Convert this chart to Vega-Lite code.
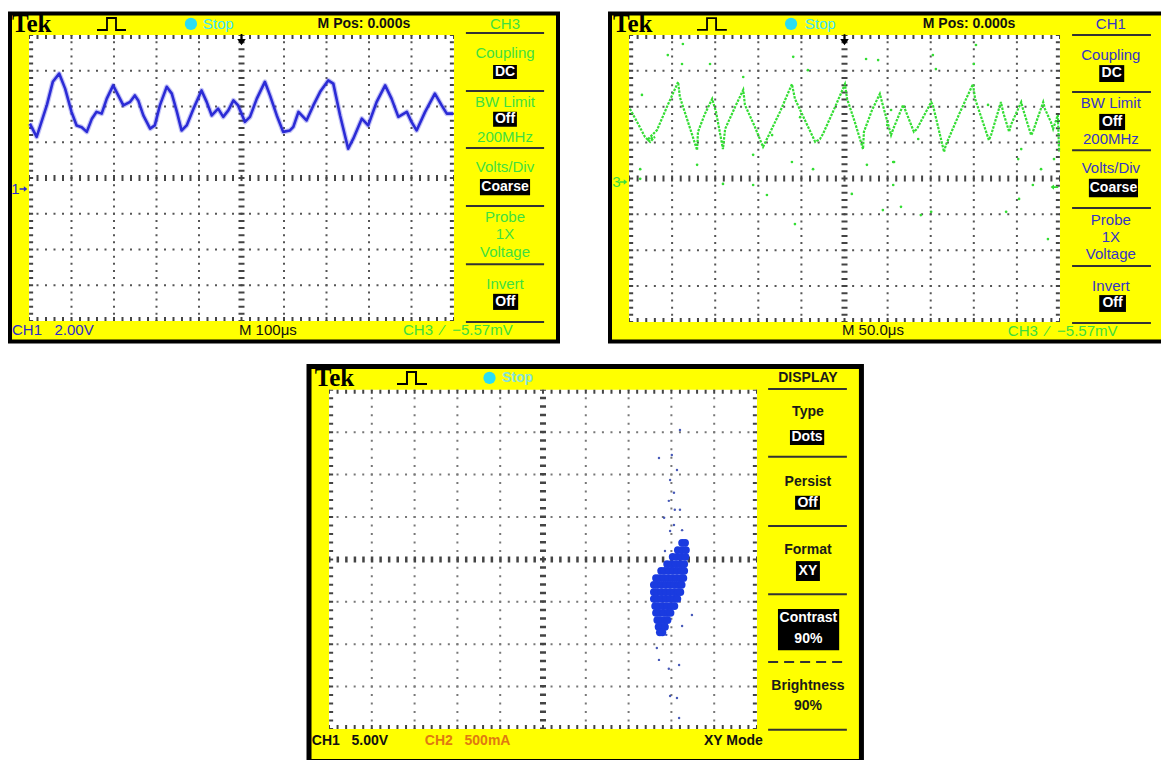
{
  "$schema": "https://vega.github.io/schema/vega-lite/v6.json",
  "background": "#ffffff",
  "padding": {"left": 8, "top": 9.5, "right": 0, "bottom": 0},
  "spacing": 19.5,
  "config": {
    "view": {"stroke": null},
    "axis": {"disable": true},
    "legend": {"disable": true},
    "text": {"font": "Liberation Sans", "fontSize": 15, "baseline": "middle"}
  },
  "vconcat": [
    {
      "spacing": 48,
      "hconcat": [
        {
          "width": 548,
          "height": 328,
          "view": {"fill": "#ffff00", "stroke": "#000000", "strokeWidth": 4},
          "encoding": {
            "x": {"field": "x", "type": "quantitative", "scale": {"domain": [-0.447, 12.447], "nice": false, "zero": false}, "axis": null},
            "y": {"field": "y", "type": "quantitative", "scale": {"domain": [-0.573, 8.601], "nice": false, "zero": false}, "axis": null}
          },
          "layer": [
            {"data": {"values": [{"x": 0, "x2": 10, "y": 0, "y2": 8}]}, "mark": {"type": "rect", "fill": "#ffffff"}, "encoding": {"x2": {"field": "x2"}, "y2": {"field": "y2"}}},
            {"data": {"values": [{"x": 1, "y": 0, "y2": 8}, {"x": 2, "y": 0, "y2": 8}, {"x": 3, "y": 0, "y2": 8}, {"x": 4, "y": 0, "y2": 8}, {"x": 6, "y": 0, "y2": 8}, {"x": 7, "y": 0, "y2": 8}, {"x": 8, "y": 0, "y2": 8}, {"x": 9, "y": 0, "y2": 8}]}, "mark": {"type": "rule", "color": "#555555", "strokeWidth": 2, "strokeDash": [2, 5.15], "strokeDashOffset": 1}, "encoding": {"y2": {"field": "y2"}}},
            {"data": {"values": [{"y": 1, "x": 0, "x2": 10}, {"y": 2, "x": 0, "x2": 10}, {"y": 3, "x": 0, "x2": 10}, {"y": 5, "x": 0, "x2": 10}, {"y": 6, "x": 0, "x2": 10}, {"y": 7, "x": 0, "x2": 10}]}, "mark": {"type": "rule", "color": "#555555", "strokeWidth": 2, "strokeDash": [2, 6.5], "strokeDashOffset": 1}, "encoding": {"x2": {"field": "x2"}}},
            {"data": {"values": [{"x": 5, "y": 0, "y2": 8}]}, "mark": {"type": "rule", "color": "#444444", "strokeWidth": 6, "strokeDash": [2, 5.15], "strokeDashOffset": 1}, "encoding": {"y2": {"field": "y2"}}},
            {"data": {"values": [{"y": 4, "x": 0, "x2": 10}]}, "mark": {"type": "rule", "color": "#444444", "strokeWidth": 6, "strokeDash": [2, 6.5], "strokeDashOffset": 1}, "encoding": {"x2": {"field": "x2"}}},
            {"data": {"values": [{"x": 0.05, "y": 0, "y2": 8}, {"x": 9.95, "y": 0, "y2": 8}]}, "mark": {"type": "rule", "color": "#444444", "strokeWidth": 4, "strokeDash": [2, 5.15], "strokeDashOffset": 1}, "encoding": {"y2": {"field": "y2"}}},
            {"data": {"values": [{"y": 0.056, "x": 0, "x2": 10}, {"y": 7.944, "x": 0, "x2": 10}]}, "mark": {"type": "rule", "color": "#444444", "strokeWidth": 4, "strokeDash": [2, 6.5], "strokeDashOffset": 1}, "encoding": {"x2": {"field": "x2"}}},
            {"data": {"name": "traceA"}, "mark": {"type": "line", "color": "#3b3be0", "strokeWidth": 5, "opacity": 0.3, "strokeJoin": "round"}},
            {"data": {"name": "traceA"}, "mark": {"type": "line", "color": "#2b2bd6", "strokeWidth": 2.6, "strokeJoin": "round"}},
            {"data": {"values": [{"x": 1.60, "y": 8.14}, {"x": 1.835, "y": 8.14}, {"x": 1.835, "y": 8.475}, {"x": 2.047, "y": 8.475}, {"x": 2.047, "y": 8.14}, {"x": 2.282, "y": 8.14}]}, "mark": {"type": "line", "color": "#000000", "strokeWidth": 1.8}, "encoding": {"order": {"value": null}}},
            {"data": {"values": [{"x": 3.81, "y": 8.31}]}, "mark": {"type": "point", "filled": true, "color": "#29def5", "opacity": 1, "size": 150}},
            {"data": {"values": [{"x": 5, "y": 7.87}]}, "mark": {"type": "point", "filled": true, "color": "#000000", "opacity": 1, "size": 150, "shape": "M-0.7,-0.1L0.7,-0.1L0,0.9Z M-0.15,-0.9L0.15,-0.9L0.15,-0.1L-0.15,-0.1Z"}},
            {"data": {"values": [{"x": -0.13, "y": 3.69}]}, "mark": {"type": "point", "filled": true, "color": "#2a2acc", "opacity": 1, "size": 60, "shape": "M-1,-0.2L0.1,-0.2L0.1,-0.7L1,0L0.1,0.7L0.1,0.2L-1,0.2Z"}},
            {"data": {"values": [{"x": 10.28, "x2": 12.12, "y": 8.056}, {"x": 10.28, "x2": 12.12, "y": 6.43}, {"x": 10.28, "x2": 12.12, "y": 4.84}, {"x": 10.28, "x2": 12.12, "y": 3.22}, {"x": 10.28, "x2": 12.12, "y": 1.59}, {"x": 10.28, "x2": 12.12, "y": -0.028}]}, "mark": {"type": "rule", "color": "#333333", "strokeWidth": 2}, "encoding": {"x2": {"field": "x2"}}},
            {"data": {"values": [{"x": 10.92, "x2": 11.48, "y": 6.77, "y2": 7.16}, {"x": 10.92, "x2": 11.48, "y": 5.43, "y2": 5.85}, {"x": 10.61, "x2": 11.79, "y": 3.52, "y2": 3.97}, {"x": 10.92, "x2": 11.51, "y": 0.31, "y2": 0.76}]}, "mark": {"type": "rect", "fill": "#000000"}, "encoding": {"x2": {"field": "x2"}, "y2": {"field": "y2"}}},
            {"data": {"name": "tA"}, "transform": [{"filter": "datum.g == 'tek'"}], "mark": {"type": "text", "align": "left", "font": "Liberation Serif", "fontWeight": "bold", "fontSize": 25, "color": "#000000"}, "encoding": {"text": {"field": "t"}}},
            {"data": {"name": "tA"}, "transform": [{"filter": "indexof(['stop','stopc','ch','blk','trg','orng'], datum.g) >= 0"}], "mark": {"type": "text", "align": "left"}, "encoding": {"text": {"field": "t"}, "color": {"field": "g", "type": "nominal", "scale": {"domain": ["stop", "stopc", "ch", "blk", "trg", "orng"], "range": ["#3de6ff", "#86e3d8", "#2a2acc", "#111111", "#3ddc3d", "#e07a10"]}, "legend": null}}},
            {"data": {"name": "tA"}, "transform": [{"filter": "datum.g == 'mpos'"}], "mark": {"type": "text", "align": "center", "fontWeight": "bold", "fontSize": 14, "color": "#111111"}, "encoding": {"text": {"field": "t"}}},
            {"data": {"name": "tA"}, "transform": [{"filter": "datum.g == 'menu'"}], "mark": {"type": "text", "align": "center", "color": "#3fdf3f"}, "encoding": {"text": {"field": "t"}}},
            {"data": {"name": "tA"}, "transform": [{"filter": "datum.g == 'box'"}], "mark": {"type": "text", "align": "center", "fontWeight": "bold", "fontSize": 14, "color": "#ffffff"}, "encoding": {"text": {"field": "t"}}}
          ]
        },
        {
          "width": 560,
          "height": 328,
          "view": {"fill": "#ffff00", "stroke": "#000000", "strokeWidth": 4},
          "encoding": {
            "x": {"field": "x", "type": "quantitative", "scale": {"domain": [-0.441, 12.552], "nice": false, "zero": false}, "axis": null},
            "y": {"field": "y", "type": "quantitative", "scale": {"domain": [-0.5436, 8.599], "nice": false, "zero": false}, "axis": null}
          },
          "layer": [
            {"data": {"values": [{"x": 0, "x2": 10, "y": 0, "y2": 8}]}, "mark": {"type": "rect", "fill": "#ffffff"}, "encoding": {"x2": {"field": "x2"}, "y2": {"field": "y2"}}},
            {"data": {"values": [{"x": 1, "y": 0, "y2": 8}, {"x": 2, "y": 0, "y2": 8}, {"x": 3, "y": 0, "y2": 8}, {"x": 4, "y": 0, "y2": 8}, {"x": 6, "y": 0, "y2": 8}, {"x": 7, "y": 0, "y2": 8}, {"x": 8, "y": 0, "y2": 8}, {"x": 9, "y": 0, "y2": 8}]}, "mark": {"type": "rule", "color": "#555555", "strokeWidth": 2, "strokeDash": [2, 5.175], "strokeDashOffset": 1}, "encoding": {"y2": {"field": "y2"}}},
            {"data": {"values": [{"y": 1, "x": 0, "x2": 10}, {"y": 2, "x": 0, "x2": 10}, {"y": 3, "x": 0, "x2": 10}, {"y": 5, "x": 0, "x2": 10}, {"y": 6, "x": 0, "x2": 10}, {"y": 7, "x": 0, "x2": 10}]}, "mark": {"type": "rule", "color": "#555555", "strokeWidth": 2, "strokeDash": [2, 6.62], "strokeDashOffset": 1}, "encoding": {"x2": {"field": "x2"}}},
            {"data": {"values": [{"x": 5, "y": 0, "y2": 8}]}, "mark": {"type": "rule", "color": "#444444", "strokeWidth": 6, "strokeDash": [2, 5.175], "strokeDashOffset": 1}, "encoding": {"y2": {"field": "y2"}}},
            {"data": {"values": [{"y": 4, "x": 0, "x2": 10}]}, "mark": {"type": "rule", "color": "#444444", "strokeWidth": 6, "strokeDash": [2, 6.62], "strokeDashOffset": 1}, "encoding": {"x2": {"field": "x2"}}},
            {"data": {"values": [{"x": 0.05, "y": 0, "y2": 8}, {"x": 9.95, "y": 0, "y2": 8}]}, "mark": {"type": "rule", "color": "#444444", "strokeWidth": 4, "strokeDash": [2, 5.175], "strokeDashOffset": 1}, "encoding": {"y2": {"field": "y2"}}},
            {"data": {"values": [{"y": 0.056, "x": 0, "x2": 10}, {"y": 7.944, "x": 0, "x2": 10}]}, "mark": {"type": "rule", "color": "#444444", "strokeWidth": 4, "strokeDash": [2, 6.62], "strokeDashOffset": 1}, "encoding": {"x2": {"field": "x2"}}},
            {"data": {"values": [
              {"x": 0.02, "y": 5.94}, {"x": 0.19, "y": 5.57}, {"x": 0.37, "y": 5.16}, {"x": 0.49, "y": 5.02}, {"x": 0.60, "y": 5.16}, {"x": 0.42, "y": 5.07}, {"x": 0.65, "y": 5.35}, {"x": 0.90, "y": 6.05}, {"x": 1.14, "y": 6.69}, {"x": 1.18, "y": 6.27},
              {"x": 1.37, "y": 5.57}, {"x": 1.58, "y": 4.79}, {"x": 1.60, "y": 5.30}, {"x": 1.76, "y": 5.80}, {"x": 1.93, "y": 6.22}, {"x": 2.02, "y": 5.85}, {"x": 2.18, "y": 4.82}, {"x": 2.23, "y": 5.38}, {"x": 2.46, "y": 5.99}, {"x": 2.65, "y": 6.47},
              {"x": 2.69, "y": 6.05}, {"x": 2.92, "y": 5.44}, {"x": 3.11, "y": 4.88}, {"x": 3.20, "y": 5.10}, {"x": 3.50, "y": 5.85}, {"x": 3.78, "y": 6.63}, {"x": 3.85, "y": 6.22}, {"x": 4.08, "y": 5.63}, {"x": 4.32, "y": 5.02}, {"x": 4.43, "y": 5.10},
              {"x": 4.50, "y": 5.24}, {"x": 4.78, "y": 5.99}, {"x": 5.01, "y": 6.63}, {"x": 5.06, "y": 6.22}, {"x": 5.24, "y": 5.57}, {"x": 5.43, "y": 4.82}, {"x": 5.45, "y": 5.30}, {"x": 5.64, "y": 5.91}, {"x": 5.82, "y": 6.36}, {"x": 5.87, "y": 6.13},
              {"x": 6.08, "y": 5.21}, {"x": 6.13, "y": 5.38}, {"x": 6.36, "y": 6.05}, {"x": 6.40, "y": 5.94}, {"x": 6.61, "y": 5.30}, {"x": 6.68, "y": 5.38}, {"x": 7.01, "y": 6.13}, {"x": 7.05, "y": 6.05}, {"x": 7.31, "y": 4.74}, {"x": 7.35, "y": 4.93},
              {"x": 7.68, "y": 5.85}, {"x": 7.98, "y": 6.63}, {"x": 8.03, "y": 6.22}, {"x": 8.35, "y": 5.07}, {"x": 8.40, "y": 5.21}, {"x": 8.63, "y": 6.13}, {"x": 8.68, "y": 5.85}, {"x": 8.82, "y": 5.30}, {"x": 8.86, "y": 5.49}, {"x": 9.10, "y": 6.13},
              {"x": 9.14, "y": 5.94}, {"x": 9.33, "y": 5.21}, {"x": 9.37, "y": 5.30}, {"x": 9.61, "y": 6.13}, {"x": 9.65, "y": 5.94}, {"x": 9.79, "y": 5.57}, {"x": 9.84, "y": 5.38}, {"x": 9.95, "y": 5.77}, {"x": 9.98, "y": 4.74}
            ]}, "mark": {"type": "line", "color": "#33dd33", "strokeWidth": 2.2, "strokeDash": [2.5, 1.2]}, "encoding": {"order": {"value": null}}},
            {"data": {"values": [
              {"x": 1.25, "y": 7.75}, {"x": 0.90, "y": 7.44}, {"x": 1.23, "y": 7.19}, {"x": 1.88, "y": 7.19}, {"x": 3.81, "y": 7.39}, {"x": 4.15, "y": 7.02}, {"x": 2.65, "y": 6.83}, {"x": 0.30, "y": 6.33}, {"x": 0.26, "y": 4.26}, {"x": 1.58, "y": 4.38},
              {"x": 2.88, "y": 4.66}, {"x": 3.97, "y": 5.71}, {"x": 3.78, "y": 4.46}, {"x": 5.52, "y": 4.38}, {"x": 5.78, "y": 7.30}, {"x": 6.13, "y": 4.46}, {"x": 3.32, "y": 5.21}, {"x": 4.27, "y": 4.26}, {"x": 5.99, "y": 5.49}, {"x": 8.05, "y": 7.72},
              {"x": 7.05, "y": 7.44}, {"x": 7.12, "y": 7.05}, {"x": 8.00, "y": 7.19}, {"x": 5.50, "y": 7.33}, {"x": 6.08, "y": 5.91}, {"x": 8.33, "y": 6.05}, {"x": 6.15, "y": 4.46}, {"x": 9.03, "y": 4.54}, {"x": 9.56, "y": 4.26}, {"x": 9.86, "y": 4.54},
              {"x": 6.71, "y": 5.10}, {"x": 9.10, "y": 4.82}, {"x": 6.13, "y": 3.82}, {"x": 6.31, "y": 3.21}, {"x": 5.89, "y": 3.12}, {"x": 6.77, "y": 2.98}, {"x": 7.01, "y": 3.07}, {"x": 8.75, "y": 3.07}, {"x": 9.05, "y": 3.43}, {"x": 9.37, "y": 3.82},
              {"x": 9.72, "y": 2.31}, {"x": 0.26, "y": 3.99}, {"x": 2.18, "y": 3.85}, {"x": 2.88, "y": 3.82}, {"x": 3.20, "y": 3.54}, {"x": 3.85, "y": 2.73}, {"x": 5.17, "y": 3.57}
            ]}, "mark": {"type": "point", "filled": true, "color": "#33dd33", "opacity": 1, "size": 7}},
            {"data": {"values": [{"x": 1.578, "y": 8.14}, {"x": 1.81, "y": 8.14}, {"x": 1.81, "y": 8.47}, {"x": 2.02, "y": 8.47}, {"x": 2.02, "y": 8.14}, {"x": 2.27, "y": 8.14}]}, "mark": {"type": "line", "color": "#000000", "strokeWidth": 1.8}, "encoding": {"order": {"value": null}}},
            {"data": {"values": [{"x": 3.76, "y": 8.31}]}, "mark": {"type": "point", "filled": true, "color": "#29def5", "opacity": 1, "size": 150}},
            {"data": {"values": [{"x": 5, "y": 7.87}]}, "mark": {"type": "point", "filled": true, "color": "#000000", "opacity": 1, "size": 150, "shape": "M-0.7,-0.1L0.7,-0.1L0,0.9Z M-0.15,-0.9L0.15,-0.9L0.15,-0.1L-0.15,-0.1Z"}},
            {"data": {"values": [{"x": 9.87, "y": 3.76}]}, "mark": {"type": "point", "filled": true, "color": "#33dd33", "opacity": 1, "size": 60, "shape": "M1,-0.2L-0.1,-0.2L-0.1,-0.7L-1,0L-0.1,0.7L-0.1,0.2L1,0.2Z"}},
            {"data": {"values": [{"x": -0.13, "y": 3.90}]}, "mark": {"type": "point", "filled": true, "color": "#3ddc3d", "opacity": 1, "size": 60, "shape": "M-1,-0.2L0.1,-0.2L0.1,-0.7L1,0L0.1,0.7L0.1,0.2L-1,0.2Z"}},
            {"data": {"values": [{"x": 10.28, "x2": 12.11, "y": 8.0}, {"x": 10.28, "x2": 12.11, "y": 6.41}, {"x": 10.28, "x2": 12.11, "y": 4.79}, {"x": 10.28, "x2": 12.11, "y": 3.18}, {"x": 10.28, "x2": 12.11, "y": 1.56}, {"x": 10.28, "x2": 12.11, "y": -0.03}]}, "mark": {"type": "rule", "color": "#333333", "strokeWidth": 2}, "encoding": {"x2": {"field": "x2"}}},
            {"data": {"values": [{"x": 10.91, "x2": 11.49, "y": 6.69, "y2": 7.16}, {"x": 10.91, "x2": 11.51, "y": 5.35, "y2": 5.80}, {"x": 10.67, "x2": 11.81, "y": 3.48, "y2": 3.99}, {"x": 10.91, "x2": 11.53, "y": 0.28, "y2": 0.75}]}, "mark": {"type": "rect", "fill": "#000000"}, "encoding": {"x2": {"field": "x2"}, "y2": {"field": "y2"}}},
            {"data": {"name": "tB"}, "transform": [{"filter": "datum.g == 'tek'"}], "mark": {"type": "text", "align": "left", "font": "Liberation Serif", "fontWeight": "bold", "fontSize": 25, "color": "#000000"}, "encoding": {"text": {"field": "t"}}},
            {"data": {"name": "tB"}, "transform": [{"filter": "indexof(['stop','stopc','ch','blk','trg','orng'], datum.g) >= 0"}], "mark": {"type": "text", "align": "left"}, "encoding": {"text": {"field": "t"}, "color": {"field": "g", "type": "nominal", "scale": {"domain": ["stop", "stopc", "ch", "blk", "trg", "orng"], "range": ["#3de6ff", "#86e3d8", "#2a2acc", "#111111", "#3ddc3d", "#e07a10"]}, "legend": null}}},
            {"data": {"name": "tB"}, "transform": [{"filter": "datum.g == 'mpos'"}], "mark": {"type": "text", "align": "center", "fontWeight": "bold", "fontSize": 14, "color": "#111111"}, "encoding": {"text": {"field": "t"}}},
            {"data": {"name": "tB"}, "transform": [{"filter": "datum.g == 'menu'"}], "mark": {"type": "text", "align": "center", "color": "#3535c5"}, "encoding": {"text": {"field": "t"}}},
            {"data": {"name": "tB"}, "transform": [{"filter": "datum.g == 'box'"}], "mark": {"type": "text", "align": "center", "fontWeight": "bold", "fontSize": 14, "color": "#ffffff"}, "encoding": {"text": {"field": "t"}}}
          ]
        }
      ]
    },
    {
      "width": 854,
      "height": 399,
      "encoding": {
        "x": {"field": "x", "type": "quantitative", "scale": {"domain": [-7.453, 12.5], "nice": false, "zero": false}, "axis": null},
        "y": {"field": "y", "type": "quantitative", "scale": {"domain": [-0.802, 8.608], "nice": false, "zero": false}, "axis": null}
      },
      "layer": [
        {"data": {"values": [{"x": -0.467, "x2": 12.44, "y": 8.55, "y2": -0.767}]}, "mark": {"type": "rect", "fill": "#ffff00", "stroke": "#000000", "strokeWidth": 5}, "encoding": {"x2": {"field": "x2"}, "y2": {"field": "y2"}}},
        {"data": {"values": [{"x": 0, "x2": 10, "y": 0, "y2": 8}]}, "mark": {"type": "rect", "fill": "#ffffff"}, "encoding": {"x2": {"field": "x2"}, "y2": {"field": "y2"}}},
        {"data": {"values": [{"x": 1, "y": 0, "y2": 8}, {"x": 2, "y": 0, "y2": 8}, {"x": 3, "y": 0, "y2": 8}, {"x": 4, "y": 0, "y2": 8}, {"x": 6, "y": 0, "y2": 8}, {"x": 7, "y": 0, "y2": 8}, {"x": 8, "y": 0, "y2": 8}, {"x": 9, "y": 0, "y2": 8}]}, "mark": {"type": "rule", "color": "#777777", "strokeWidth": 2, "strokeDash": [2, 6.48], "strokeDashOffset": 1}, "encoding": {"y2": {"field": "y2"}}},
        {"data": {"values": [{"y": 1, "x": 0, "x2": 10}, {"y": 2, "x": 0, "x2": 10}, {"y": 3, "x": 0, "x2": 10}, {"y": 5, "x": 0, "x2": 10}, {"y": 6, "x": 0, "x2": 10}, {"y": 7, "x": 0, "x2": 10}]}, "mark": {"type": "rule", "color": "#777777", "strokeWidth": 2, "strokeDash": [2, 6.56], "strokeDashOffset": 1}, "encoding": {"x2": {"field": "x2"}}},
        {"data": {"values": [{"x": 5, "y": 0, "y2": 8}]}, "mark": {"type": "rule", "color": "#444444", "strokeWidth": 6, "strokeDash": [2.5, 5.98], "strokeDashOffset": 1}, "encoding": {"y2": {"field": "y2"}}},
        {"data": {"values": [{"y": 4, "x": 0, "x2": 10}]}, "mark": {"type": "rule", "color": "#444444", "strokeWidth": 6, "strokeDash": [2.5, 6.06], "strokeDashOffset": 1}, "encoding": {"x2": {"field": "x2"}}},
        {"data": {"values": [{"x": 0.05, "y": 0, "y2": 8}, {"x": 9.95, "y": 0, "y2": 8}]}, "mark": {"type": "rule", "color": "#444444", "strokeWidth": 4, "strokeDash": [2, 6.48], "strokeDashOffset": 1}, "encoding": {"y2": {"field": "y2"}}},
        {"data": {"values": [{"y": 0.047, "x": 0, "x2": 10}, {"y": 7.953, "x": 0, "x2": 10}]}, "mark": {"type": "rule", "color": "#444444", "strokeWidth": 4, "strokeDash": [2, 6.56], "strokeDashOffset": 1}, "encoding": {"x2": {"field": "x2"}}},
        {"data": {"values": [
          {"x": 8.20, "y": 7.05}, {"x": 8.01, "y": 6.46}, {"x": 7.71, "y": 6.39}, {"x": 8.13, "y": 6.11}, {"x": 7.97, "y": 5.87}, {"x": 8.06, "y": 5.57}, {"x": 7.94, "y": 5.38}, {"x": 8.20, "y": 5.17}, {"x": 8.08, "y": 5.17}, {"x": 7.83, "y": 4.98},
          {"x": 8.06, "y": 4.81}, {"x": 7.97, "y": 4.67}, {"x": 8.25, "y": 4.69}, {"x": 7.85, "y": 4.20}, {"x": 7.66, "y": 1.91}, {"x": 7.71, "y": 1.63}, {"x": 7.94, "y": 1.42}, {"x": 8.18, "y": 1.51}, {"x": 7.97, "y": 0.78}, {"x": 8.13, "y": 0.73},
          {"x": 8.25, "y": 2.43}, {"x": 8.18, "y": 0.26}, {"x": 7.88, "y": 2.22}, {"x": 8.48, "y": 2.69}
        ]}, "mark": {"type": "point", "filled": true, "color": "#3347b0", "opacity": 0.9, "size": 6}},
        {"data": {"values": [
          {"x": 8.25, "y": 4.39}, {"x": 8.32, "y": 4.39},
          {"x": 8.15, "y": 4.22}, {"x": 8.25, "y": 4.22}, {"x": 8.34, "y": 4.22},
          {"x": 8.03, "y": 4.06}, {"x": 8.13, "y": 4.06}, {"x": 8.23, "y": 4.06}, {"x": 8.33, "y": 4.06},
          {"x": 7.90, "y": 3.89}, {"x": 8.00, "y": 3.89}, {"x": 8.10, "y": 3.89}, {"x": 8.20, "y": 3.89}, {"x": 8.30, "y": 3.89},
          {"x": 7.76, "y": 3.73}, {"x": 7.84, "y": 3.73}, {"x": 7.94, "y": 3.73}, {"x": 8.04, "y": 3.73}, {"x": 8.14, "y": 3.73}, {"x": 8.24, "y": 3.73}, {"x": 8.30, "y": 3.73},
          {"x": 7.64, "y": 3.56}, {"x": 7.72, "y": 3.56}, {"x": 7.82, "y": 3.56}, {"x": 7.92, "y": 3.56}, {"x": 8.02, "y": 3.56}, {"x": 8.12, "y": 3.56}, {"x": 8.22, "y": 3.56}, {"x": 8.28, "y": 3.56},
          {"x": 7.59, "y": 3.40}, {"x": 7.67, "y": 3.40}, {"x": 7.77, "y": 3.40}, {"x": 7.87, "y": 3.40}, {"x": 7.97, "y": 3.40}, {"x": 8.07, "y": 3.40}, {"x": 8.17, "y": 3.40}, {"x": 8.24, "y": 3.40},
          {"x": 7.59, "y": 3.23}, {"x": 7.67, "y": 3.23}, {"x": 7.77, "y": 3.23}, {"x": 7.87, "y": 3.23}, {"x": 7.97, "y": 3.23}, {"x": 8.07, "y": 3.23}, {"x": 8.15, "y": 3.23}, {"x": 8.21, "y": 3.23},
          {"x": 7.59, "y": 3.07}, {"x": 7.67, "y": 3.07}, {"x": 7.77, "y": 3.07}, {"x": 7.87, "y": 3.07}, {"x": 7.97, "y": 3.07}, {"x": 8.07, "y": 3.07}, {"x": 8.14, "y": 3.07},
          {"x": 7.62, "y": 2.90}, {"x": 7.70, "y": 2.90}, {"x": 7.80, "y": 2.90}, {"x": 7.90, "y": 2.90}, {"x": 8.00, "y": 2.90}, {"x": 8.07, "y": 2.90},
          {"x": 7.64, "y": 2.74}, {"x": 7.72, "y": 2.74}, {"x": 7.82, "y": 2.74}, {"x": 7.92, "y": 2.74}, {"x": 7.98, "y": 2.74},
          {"x": 7.67, "y": 2.57}, {"x": 7.75, "y": 2.57}, {"x": 7.85, "y": 2.57}, {"x": 7.91, "y": 2.57},
          {"x": 7.70, "y": 2.41}, {"x": 7.78, "y": 2.41}, {"x": 7.85, "y": 2.41},
          {"x": 7.73, "y": 2.28}, {"x": 7.79, "y": 2.28}
        ]}, "mark": {"type": "point", "filled": true, "color": "#1a3be0", "opacity": 1, "size": 60}},
        {"data": {"values": [{"x": 1.589, "y": 8.137}, {"x": 1.822, "y": 8.137}, {"x": 1.822, "y": 8.42}, {"x": 2.033, "y": 8.42}, {"x": 2.033, "y": 8.137}, {"x": 2.29, "y": 8.137}]}, "mark": {"type": "line", "color": "#000000", "strokeWidth": 2}, "encoding": {"order": {"value": null}}},
        {"data": {"values": [{"x": 3.75, "y": 8.28}]}, "mark": {"type": "point", "filled": true, "color": "#29def5", "opacity": 1, "size": 150}},
        {"data": {"values": [{"x": 10.26, "x2": 12.10, "y": 8.02}, {"x": 10.26, "x2": 12.10, "y": 6.42}, {"x": 10.26, "x2": 12.10, "y": 4.79}, {"x": 10.26, "x2": 12.10, "y": 3.18}, {"x": 10.26, "x2": 12.10, "y": -0.02}]}, "mark": {"type": "rule", "color": "#333333", "strokeWidth": 2}, "encoding": {"x2": {"field": "x2"}}},
        {"data": {"values": [{"x": 10.26, "x2": 12.10, "y": 1.58}]}, "mark": {"type": "rule", "color": "#333333", "strokeWidth": 2, "strokeDash": [10, 6]}, "encoding": {"x2": {"field": "x2"}}},
        {"data": {"values": [{"x": 10.77, "x2": 11.57, "y": 6.70, "y2": 7.05}, {"x": 10.89, "x2": 11.47, "y": 5.17, "y2": 5.50}, {"x": 10.91, "x2": 11.47, "y": 3.49, "y2": 3.96}, {"x": 10.49, "x2": 11.92, "y": 1.86, "y2": 2.83}]}, "mark": {"type": "rect", "fill": "#000000"}, "encoding": {"x2": {"field": "x2"}, "y2": {"field": "y2"}}},
        {"data": {"name": "tC"}, "transform": [{"filter": "datum.g == 'tek'"}], "mark": {"type": "text", "align": "left", "font": "Liberation Serif", "fontWeight": "bold", "fontSize": 25, "color": "#000000"}, "encoding": {"text": {"field": "t"}}},
        {"data": {"name": "tC"}, "transform": [{"filter": "indexof(['stop','stopc','ch','blk','trg','orng'], datum.g) >= 0"}], "mark": {"type": "text", "align": "left", "fontWeight": "bold", "fontSize": 14}, "encoding": {"text": {"field": "t"}, "color": {"field": "g", "type": "nominal", "scale": {"domain": ["stop", "stopc", "ch", "blk", "trg", "orng"], "range": ["#3de6ff", "#86e3d8", "#2a2acc", "#111111", "#3ddc3d", "#e07a10"]}, "legend": null}}},
        {"data": {"name": "tC"}, "transform": [{"filter": "datum.g == 'menu'"}], "mark": {"type": "text", "align": "center", "fontWeight": "bold", "fontSize": 14, "color": "#1a1a1a"}, "encoding": {"text": {"field": "t"}}},
        {"data": {"name": "tC"}, "transform": [{"filter": "datum.g == 'box'"}], "mark": {"type": "text", "align": "center", "fontWeight": "bold", "fontSize": 14, "color": "#ffffff"}, "encoding": {"text": {"field": "t"}}}
      ]
    }
  ],
  "datasets": {
    "traceA": [
      {"x": 0.02, "y": 5.52}, {"x": 0.18, "y": 5.15}, {"x": 0.42, "y": 6.04}, {"x": 0.56, "y": 6.69}, {"x": 0.71, "y": 6.92}, {"x": 0.85, "y": 6.50}, {"x": 1.00, "y": 5.85}, {"x": 1.12, "y": 5.47}, {"x": 1.24, "y": 5.42}, {"x": 1.36, "y": 5.29},
      {"x": 1.48, "y": 5.66}, {"x": 1.59, "y": 5.85}, {"x": 1.71, "y": 5.80}, {"x": 1.83, "y": 6.22}, {"x": 1.98, "y": 6.59}, {"x": 2.10, "y": 6.31}, {"x": 2.22, "y": 6.03}, {"x": 2.38, "y": 6.13}, {"x": 2.49, "y": 6.31}, {"x": 2.57, "y": 6.17},
      {"x": 2.69, "y": 5.75}, {"x": 2.85, "y": 5.38}, {"x": 2.96, "y": 5.47}, {"x": 3.08, "y": 6.03}, {"x": 3.24, "y": 6.55}, {"x": 3.36, "y": 6.36}, {"x": 3.48, "y": 5.85}, {"x": 3.59, "y": 5.33}, {"x": 3.71, "y": 5.47}, {"x": 3.87, "y": 5.94},
      {"x": 4.06, "y": 6.45}, {"x": 4.18, "y": 6.13}, {"x": 4.30, "y": 5.75}, {"x": 4.45, "y": 5.94}, {"x": 4.57, "y": 5.71}, {"x": 4.69, "y": 5.89}, {"x": 4.81, "y": 6.17}, {"x": 4.92, "y": 6.03}, {"x": 5.08, "y": 5.57}, {"x": 5.20, "y": 5.71},
      {"x": 5.36, "y": 6.22}, {"x": 5.55, "y": 6.69}, {"x": 5.67, "y": 6.31}, {"x": 5.83, "y": 5.75}, {"x": 5.98, "y": 5.29}, {"x": 6.14, "y": 5.33}, {"x": 6.22, "y": 5.43}, {"x": 6.34, "y": 5.85}, {"x": 6.53, "y": 5.61}, {"x": 6.69, "y": 6.03},
      {"x": 6.85, "y": 6.41}, {"x": 7.04, "y": 6.73}, {"x": 7.16, "y": 6.64}, {"x": 7.32, "y": 5.75}, {"x": 7.51, "y": 4.82}, {"x": 7.63, "y": 5.10}, {"x": 7.83, "y": 5.66}, {"x": 7.98, "y": 5.47}, {"x": 8.18, "y": 6.13}, {"x": 8.38, "y": 6.59},
      {"x": 8.53, "y": 6.22}, {"x": 8.69, "y": 5.71}, {"x": 8.89, "y": 5.85}, {"x": 9.00, "y": 5.57}, {"x": 9.12, "y": 5.33}, {"x": 9.32, "y": 5.85}, {"x": 9.55, "y": 6.36}, {"x": 9.71, "y": 6.03}, {"x": 9.83, "y": 5.80}, {"x": 9.98, "y": 5.80}
    ],
    "tA": [
      {"x": -0.40, "y": 8.31, "t": "Tek", "g": "tek"},
      {"x": 4.09, "y": 8.31, "t": "Stop", "g": "stop"},
      {"x": 7.88, "y": 8.31, "t": "M Pos: 0.000s", "g": "mpos"},
      {"x": -0.40, "y": -0.25, "t": "CH1\u00a0\u00a0\u00a02.00V", "g": "ch"},
      {"x": 4.94, "y": -0.25, "t": "M 100μs", "g": "blk"},
      {"x": 8.80, "y": -0.25, "t": "CH3\u00a0\u00a0⁄\u00a0\u00a0−5.57mV", "g": "trg"},
      {"x": -0.42, "y": 3.69, "t": "1", "g": "ch"},
      {"x": 11.2, "y": 8.31, "t": "CH3", "g": "menu"},
      {"x": 11.2, "y": 7.50, "t": "Coupling", "g": "menu"},
      {"x": 11.2, "y": 6.13, "t": "BW Limit", "g": "menu"},
      {"x": 11.2, "y": 5.15, "t": "200MHz", "g": "menu"},
      {"x": 11.2, "y": 4.31, "t": "Volts/Div", "g": "menu"},
      {"x": 11.2, "y": 2.91, "t": "Probe", "g": "menu"},
      {"x": 11.2, "y": 2.42, "t": "1X", "g": "menu"},
      {"x": 11.2, "y": 1.93, "t": "Voltage", "g": "menu"},
      {"x": 11.2, "y": 1.03, "t": "Invert", "g": "menu"},
      {"x": 11.2, "y": 6.97, "t": "DC", "g": "box"},
      {"x": 11.2, "y": 5.64, "t": "Off", "g": "box"},
      {"x": 11.2, "y": 3.75, "t": "Coarse", "g": "box"},
      {"x": 11.21, "y": 0.53, "t": "Off", "g": "box"}
    ],
    "tB": [
      {"x": -0.37, "y": 8.31, "t": "Tek", "g": "tek"},
      {"x": 4.08, "y": 8.31, "t": "Stop", "g": "stop"},
      {"x": 7.89, "y": 8.31, "t": "M Pos: 0.000s", "g": "mpos"},
      {"x": 4.94, "y": -0.22, "t": "M 50.0μs", "g": "blk"},
      {"x": 8.79, "y": -0.26, "t": "CH3\u00a0\u00a0⁄\u00a0\u00a0−5.57mV", "g": "trg"},
      {"x": -0.39, "y": 3.90, "t": "3", "g": "trg"},
      {"x": 11.18, "y": 8.31, "t": "CH1", "g": "menu"},
      {"x": 11.18, "y": 7.44, "t": "Coupling", "g": "menu"},
      {"x": 11.18, "y": 6.10, "t": "BW Limit", "g": "menu"},
      {"x": 11.18, "y": 5.10, "t": "200MHz", "g": "menu"},
      {"x": 11.18, "y": 4.29, "t": "Volts/Div", "g": "menu"},
      {"x": 11.18, "y": 2.84, "t": "Probe", "g": "menu"},
      {"x": 11.18, "y": 2.37, "t": "1X", "g": "menu"},
      {"x": 11.18, "y": 1.90, "t": "Voltage", "g": "menu"},
      {"x": 11.18, "y": 1.00, "t": "Invert", "g": "menu"},
      {"x": 11.2, "y": 6.93, "t": "DC", "g": "box"},
      {"x": 11.21, "y": 5.58, "t": "Off", "g": "box"},
      {"x": 11.24, "y": 3.74, "t": "Coarse", "g": "box"},
      {"x": 11.22, "y": 0.52, "t": "Off", "g": "box"}
    ],
    "tC": [
      {"x": -0.33, "y": 8.28, "t": "Tek", "g": "tek"},
      {"x": 4.04, "y": 8.28, "t": "Stop", "g": "stopc"},
      {"x": -0.40, "y": -0.28, "t": "CH1\u00a0\u00a0\u00a05.00V", "g": "blk"},
      {"x": 2.24, "y": -0.28, "t": "CH2\u00a0\u00a0\u00a0500mA", "g": "orng"},
      {"x": 8.76, "y": -0.28, "t": "XY Mode", "g": "blk"},
      {"x": 11.19, "y": 8.28, "t": "DISPLAY", "g": "menu"},
      {"x": 11.19, "y": 7.48, "t": "Type", "g": "menu"},
      {"x": 11.19, "y": 5.83, "t": "Persist", "g": "menu"},
      {"x": 11.19, "y": 4.22, "t": "Format", "g": "menu"},
      {"x": 11.19, "y": 1.01, "t": "Brightness", "g": "menu"},
      {"x": 11.19, "y": 0.54, "t": "90%", "g": "menu"},
      {"x": 11.17, "y": 6.88, "t": "Dots", "g": "box"},
      {"x": 11.18, "y": 5.33, "t": "Off", "g": "box"},
      {"x": 11.19, "y": 3.73, "t": "XY", "g": "box"},
      {"x": 11.2, "y": 2.62, "t": "Contrast", "g": "box"},
      {"x": 11.2, "y": 2.12, "t": "90%", "g": "box"}
    ]
  }
}
